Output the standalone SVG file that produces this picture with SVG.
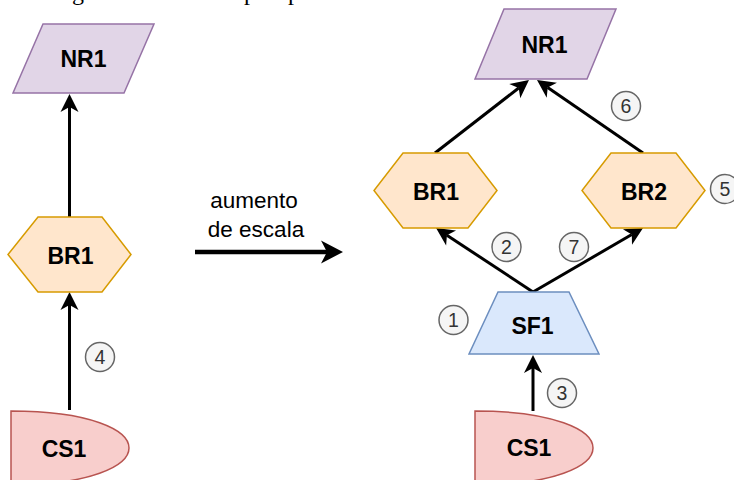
<svg xmlns="http://www.w3.org/2000/svg" width="734" height="480" viewBox="0 0 734 480">
  <style>
    .lbl { font-family: "Liberation Sans", Arial, Helvetica, sans-serif; font-size: 23px; font-weight: bold; fill: #000; text-anchor: middle; }
    .num { font-family: "Liberation Sans", Arial, Helvetica, sans-serif; font-size: 19.5px; fill: #333333; text-anchor: middle; }
    .cap { font-family: "Liberation Sans", Arial, Helvetica, sans-serif; font-size: 22.5px; fill: #000; text-anchor: middle; }
    .top { font-family: "Liberation Serif", "Times New Roman", serif; font-size: 24px; fill: #000; }
    .nr { fill: #e1d5e7; stroke: #9673a6; stroke-width: 1.5; }
    .br { fill: #ffe6cc; stroke: #d79b00; stroke-width: 1.5; }
    .sf { fill: #dae8fc; stroke: #6c8ebf; stroke-width: 1.5; }
    .cs { fill: #f8cecc; stroke: #b85450; stroke-width: 1.5; }
    .badge { fill: #f5f5f5; stroke: #666666; stroke-width: 1.5; }
    .edge { fill: none; stroke: #000; stroke-width: 3; marker-end: url(#arr); }
    .edge-big { fill: none; stroke: #000; stroke-width: 4.5; marker-end: url(#arrBig); }
  </style>
  <defs>
    <!-- classic notched arrowhead; the line stops at the notch (refX) -->
    <marker id="arr" markerUnits="userSpaceOnUse" markerWidth="18" markerHeight="18" viewBox="0 0 18 18" refX="5" refY="9" orient="auto" overflow="visible">
      <path d="M0,0 L18,9 L0,18 L5,9 Z" fill="#000"/>
    </marker>
    <marker id="arrBig" markerUnits="userSpaceOnUse" markerWidth="22" markerHeight="23" viewBox="0 0 22 23" refX="6" refY="11.5" orient="auto" overflow="visible">
      <path d="M0,0 L22,11.5 L0,23 L6,11.5 Z" fill="#000"/>
    </marker>
  </defs>

  <!-- first line of the surrounding text, clipped at the top edge -->
  <text class="top" y="0"><tspan x="72">g</tspan><tspan x="244">p</tspan><tspan x="288">p</tspan></text>

  <!-- connectors -->
  <g id="connectors">
    <line class="edge" x1="69.5" y1="217" x2="69.5" y2="107"/>
    <line class="edge" x1="69.5" y1="410" x2="69.5" y2="305"/>
    <line class="edge-big" x1="195" y1="252" x2="327" y2="252"/>
    <line class="edge" x1="435" y1="153" x2="518.7" y2="88"/>
    <line class="edge" x1="643" y1="153" x2="547.7" y2="87.4"/>
    <line class="edge" x1="533" y1="292" x2="446.9" y2="235.2"/>
    <line class="edge" x1="533" y1="292" x2="631.8" y2="234.5"/>
    <line class="edge" x1="533" y1="411" x2="533" y2="368"/>
  </g>

  <!-- left: before scaling -->
  <g id="nr1-left">
    <polygon class="nr" points="43,24 154,24 124,93 13,93"/>
    <text class="lbl" x="83.5" y="67">NR1</text>
  </g>
  <g id="br1-left">
    <polygon class="br" points="38,217 102,217 131,254.5 102,292 38,292 8,254.5"/>
    <text class="lbl" x="70.5" y="264">BR1</text>
  </g>
  <g id="cs1-left">
    <path class="cs" d="M11,411 C90,411 129,430 129,448 C129,466 90,485 11,485 Z"/>
    <text class="lbl" x="64" y="457">CS1</text>
  </g>
  <g id="step4">
    <circle class="badge" cx="100" cy="357" r="14.5"/>
    <text class="num" x="100" y="364">4</text>
  </g>

  <!-- transition caption -->
  <g id="scale-up">
    <text class="cap" x="254" y="208">aumento</text>
    <text class="cap" x="256" y="237">de escala</text>
  </g>

  <!-- right: after scaling -->
  <g id="nr1-right">
    <polygon class="nr" points="504,9 616,9 587,79 475,79"/>
    <text class="lbl" x="544.5" y="52.5">NR1</text>
  </g>
  <g id="br1-right">
    <polygon class="br" points="403,153 468,153 497,190.5 468,228 403,228 374,190.5"/>
    <text class="lbl" x="436" y="200">BR1</text>
  </g>
  <g id="br2-right">
    <polygon class="br" points="611,153 676,153 705,190.5 676,228 611,228 582,190.5"/>
    <text class="lbl" x="644" y="200">BR2</text>
  </g>
  <g id="sf1-right">
    <polygon class="sf" points="498,292 569,292 599,354 469,354"/>
    <text class="lbl" x="532.5" y="334">SF1</text>
  </g>
  <g id="cs1-right">
    <path class="cs" d="M475,411 C554,411 593,430 593,448 C593,466 554,485 475,485 Z"/>
    <text class="lbl" x="529" y="456">CS1</text>
  </g>

  <g id="step1">
    <circle class="badge" cx="453.5" cy="320" r="14.5"/>
    <text class="num" x="453.5" y="327">1</text>
  </g>
  <g id="step2">
    <circle class="badge" cx="506.5" cy="247" r="14.5"/>
    <text class="num" x="506.5" y="254">2</text>
  </g>
  <g id="step3">
    <circle class="badge" cx="562" cy="393" r="14.5"/>
    <text class="num" x="562" y="400">3</text>
  </g>
  <g id="step5">
    <circle class="badge" cx="725" cy="189" r="14.5"/>
    <text class="num" x="725" y="196">5</text>
  </g>
  <g id="step6">
    <circle class="badge" cx="626" cy="106" r="14.5"/>
    <text class="num" x="626" y="113">6</text>
  </g>
  <g id="step7">
    <circle class="badge" cx="574" cy="247" r="14.5"/>
    <text class="num" x="574" y="254">7</text>
  </g>
</svg>
